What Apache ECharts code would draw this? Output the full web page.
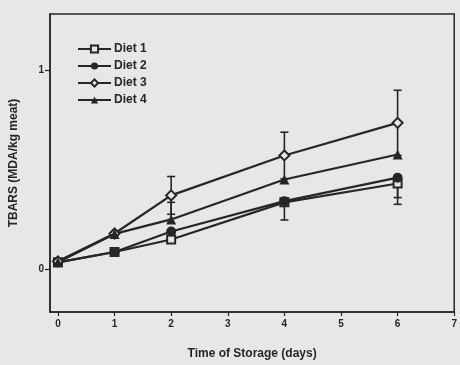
<!DOCTYPE html>
<html>
<head>
<meta charset="utf-8">
<script src="https://cdn.jsdelivr.net/npm/echarts@6/dist/echarts.min.js"></script>
<style>
html, body { margin: 0; padding: 0; background: #e7e7e5; }
#chart { width: 460px; height: 365px; }
</style>
</head>
<body>
<div id="chart"></div>
<script>
// storage time (days) and TBARS means per diet
const days = [0, 1, 2, 4, 6];
const diet1 = [0.035, 0.087, 0.15, 0.337, 0.432];
const diet2 = [0.035, 0.087, 0.19, 0.343, 0.461];
const diet3 = [0.04, 0.18, 0.372, 0.573, 0.737];
const diet4 = [0.035, 0.178, 0.251, 0.452, 0.578];

// error bars (only the visible halves)
const diet1ErrUp = [0, 0, 0, 0, 0];
const diet1ErrDown = [0, 0, 0, 0, 0.105];
const diet2ErrUp = [0, 0, 0, 0, 0];
const diet2ErrDown = [0, 0, 0, 0.095, 0.1];
const diet3ErrUp = [0, 0, 0.095, 0.117, 0.164];
const diet3ErrDown = [0, 0, 0.095, 0.117, 0.164];
const diet4ErrUp = [0, 0, 0.086, 0, 0];
const diet4ErrDown = [0, 0, 0, 0, 0];

const xTicks = [0, 1, 2, 3, 4, 5, 6, 7];
const yTicks = [0, 1];

const ink = '#262626';
const paper = '#e7e7e5';
const font = 'Liberation Sans, Arial, sans-serif';

function points(ys) {
    return days.map((d, i) => [d, ys[i]]);
}

function bars(ys, up, down) {
    const out = [];
    days.forEach((d, i) => {
        if (up[i] || down[i]) out.push([d, ys[i] - down[i], ys[i] + up[i], up[i] ? 1 : 0, down[i] ? 1 : 0]);
    });
    return out;
}

function renderBar(params, api) {
    const x = api.value(0);
    const lo = api.coord([x, api.value(1)]);
    const hi = api.coord([x, api.value(2)]);
    const w = 4;
    const st = { stroke: ink, lineWidth: 1.6 };
    const kids = [{ type: 'line', shape: { x1: lo[0], y1: lo[1], x2: hi[0], y2: hi[1] }, style: st }];
    if (api.value(3)) kids.push({ type: 'line', shape: { x1: hi[0] - w, y1: hi[1], x2: hi[0] + w, y2: hi[1] }, style: st });
    if (api.value(4)) kids.push({ type: 'line', shape: { x1: lo[0] - w, y1: lo[1], x2: lo[0] + w, y2: lo[1] }, style: st });
    return { type: 'group', children: kids };
}

function lineSeries(name, ys, symbol, size, filled) {
    return {
        name: name,
        type: 'line',
        data: points(ys),
        symbol: symbol,
        symbolSize: size,
        showAllSymbol: true,
        lineStyle: { color: ink, width: 2.2 },
        itemStyle: { color: filled ? ink : paper, borderColor: ink, borderWidth: filled ? 0 : 2 },
        z: 3
    };
}

function barSeries(ys, up, down) {
    return {
        type: 'custom',
        renderItem: renderBar,
        data: bars(ys, up, down),
        encode: { x: 0, y: [1, 2] },
        silent: true,
        z: 2
    };
}

const chart = echarts.init(document.getElementById('chart'));
chart.setOption({
    backgroundColor: paper,
    animation: false,
    grid: {
        left: 49, right: 3, top: 14, bottom: 52,
        show: true, borderColor: ink, borderWidth: 1.5
    },
    legend: {
        orient: 'vertical',
        left: 72,
        top: 38,
        itemWidth: 33,
        itemHeight: 9,
        itemGap: 5,
        data: ['Diet 1', 'Diet 2', 'Diet 3', 'Diet 4'],
        textStyle: { color: ink, fontFamily: font, fontSize: 12, fontWeight: 'bold', padding: [0, 0, 0, -2] }
    },
    xAxis: {
        type: 'value',
        min: -0.14,
        max: 7,
        name: 'Time of Storage (days)',
        nameLocation: 'middle',
        nameGap: 36,
        nameTextStyle: { color: ink, fontFamily: font, fontWeight: 'bold', fontSize: 12 },
        axisLine: { onZero: false, lineStyle: { color: ink, width: 1.5 } },
        axisTick: { customValues: xTicks, length: 4, lineStyle: { color: ink, width: 1.2 } },
        axisLabel: { customValues: xTicks, color: ink, fontFamily: font, fontWeight: 'bold', fontSize: 10, margin: 7 },
        splitLine: { show: false }
    },
    yAxis: {
        type: 'value',
        min: -0.215,
        max: 1.285,
        name: 'TBARS (MDA/kg meat)',
        nameLocation: 'middle',
        nameGap: 30,
        nameTextStyle: { color: ink, fontFamily: font, fontWeight: 'bold', fontSize: 12 },
        axisLine: { show: true, onZero: false, lineStyle: { color: ink, width: 1.5 } },
        axisTick: { show: true, customValues: yTicks, length: 5, lineStyle: { color: ink, width: 1.2 } },
        axisLabel: { customValues: yTicks, color: ink, fontFamily: font, fontWeight: 'bold', fontSize: 10, margin: 6 },
        splitLine: { show: false }
    },
    series: [
        barSeries(diet1, diet1ErrUp, diet1ErrDown),
        barSeries(diet2, diet2ErrUp, diet2ErrDown),
        barSeries(diet3, diet3ErrUp, diet3ErrDown),
        barSeries(diet4, diet4ErrUp, diet4ErrDown),
        lineSeries('Diet 1', diet1, 'rect', 8, false),
        lineSeries('Diet 2', diet2, 'circle', 10, true),
        lineSeries('Diet 3', diet3, 'diamond', 10, false),
        lineSeries('Diet 4', diet4, 'triangle', 10, true)
    ]
});
</script>
</body>
</html>
